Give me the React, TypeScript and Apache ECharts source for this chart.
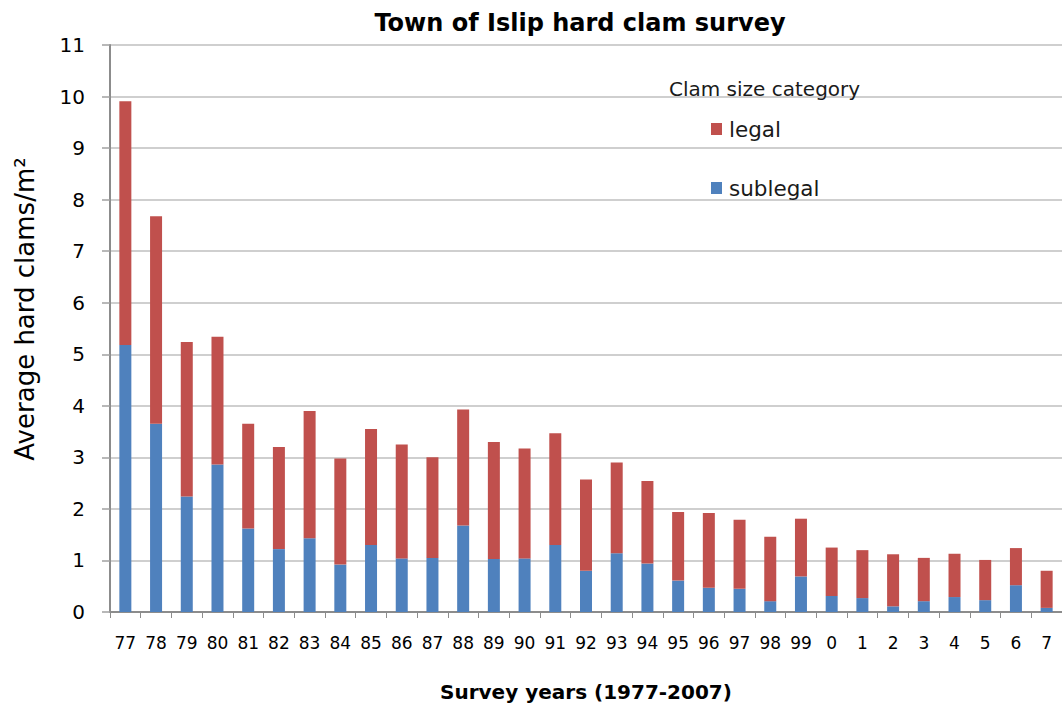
import React, { useEffect, useRef } from "react";
import * as echarts from "echarts";

const categories = ["77","78","79","80","81","82","83","84","85","86","87","88","89","90","91","92","93","94","95","96","97","98","99","0","1","2","3","4","5","6","7"];
const sublegal = [5.18,3.65,2.24,2.86,1.62,1.22,1.43,0.92,1.30,1.04,1.05,1.68,1.03,1.04,1.30,0.80,1.14,0.94,0.61,0.47,0.45,0.21,0.69,0.31,0.27,0.11,0.21,0.29,0.23,0.52,0.08];
const legal = [4.73,4.03,3.00,2.48,2.03,1.98,2.47,2.06,2.25,2.21,1.95,2.25,2.27,2.13,2.17,1.77,1.76,1.60,1.33,1.45,1.34,1.25,1.12,0.94,0.93,1.01,0.84,0.84,0.78,0.72,0.72];
const yTicks = [0,1,2,3,4,5,6,7,8,9,10,11];

const FONT = "'DejaVu Sans', sans-serif";

export default function App() {
  const ref = useRef<HTMLDivElement>(null);
  useEffect(() => {
    if (!ref.current) return;
    const chart = echarts.init(ref.current, null, { renderer: "svg" });
    chart.setOption({
      animation: false,
      backgroundColor: "#ffffff",
      textStyle: { fontFamily: FONT },
      title: [
        {
          text: "Town of Islip hard clam survey",
          left: 575,
          textAlign: "center",
          top: 6,
          textStyle: { fontSize: 24, fontWeight: "bold", color: "#000", fontFamily: FONT },
        },
        {
          text: "Clam size category",
          left: 664,
          top: 74,
          textStyle: { fontSize: 20, fontWeight: "normal", color: "#1a1a1a", fontFamily: FONT },
        },
      ],
      legend: {
        data: ["legal", "sublegal"],
        orient: "vertical",
        left: 706,
        top: 113,
        itemWidth: 11,
        itemHeight: 12,
        itemGap: 37,
        icon: "rect",
        textStyle: { fontSize: 21.5, color: "#1a1a1a", fontFamily: FONT, padding: [0, 0, 0, 2] },
      },
      graphic: [
        {
          type: "text",
          x: 25,
          y: 309,
          rotation: Math.PI / 2,
          style: {
            text: "Average hard clams/m²",
            fontSize: 26,
            fontFamily: FONT,
            fill: "#000",
            align: "center",
            verticalAlign: "middle",
          },
        },
      ],
      grid: { left: 110, right: -9, top: 45, bottom: 99, containLabel: false },
      xAxis: {
        type: "category",
        data: categories,
        name: "Survey years (1977-2007)",
        nameLocation: "middle",
        nameGap: 70,
        nameTextStyle: { fontSize: 20, fontWeight: "bold", color: "#000", fontFamily: FONT },
        axisLine: { lineStyle: { color: "#8c8c8c", width: 2 } },
        axisTick: { show: true, length: 6, lineStyle: { color: "#8c8c8c", width: 1 } },
        axisLabel: { fontSize: 17, color: "#000", margin: 22, interval: 0, fontFamily: FONT },
      },
      yAxis: {
        type: "value",
        min: 0,
        max: 11,
        interval: 1,
        axisLine: { show: true, lineStyle: { color: "#8c8c8c", width: 2 } },
        axisTick: { show: true, length: 8, lineStyle: { color: "#a0a0a0", width: 1.5 } },
        axisLabel: {
          fontSize: 20,
          color: "#000",
          margin: 25,
          fontFamily: FONT,
          formatter: (v: number) => (yTicks.includes(v) ? String(v) : ""),
        },
        splitLine: { show: true, lineStyle: { color: "#bfbfbf", width: 1.5 } },
      },
      series: [
        {
          name: "sublegal",
          type: "bar",
          stack: "total",
          data: sublegal,
          barWidth: 12,
          itemStyle: { color: "#4F81BD" },
        },
        {
          name: "legal",
          type: "bar",
          stack: "total",
          data: legal,
          barWidth: 12,
          itemStyle: { color: "#C0504D" },
        },
      ],
    });
    return () => chart.dispose();
  }, []);
  return (
    <div style={{ position: "fixed", left: 0, top: 0, width: 1062, height: 711, overflow: "hidden", background: "#fff" }}>
      <div ref={ref} style={{ width: 1062, height: 711 }} />
    </div>
  );
}
